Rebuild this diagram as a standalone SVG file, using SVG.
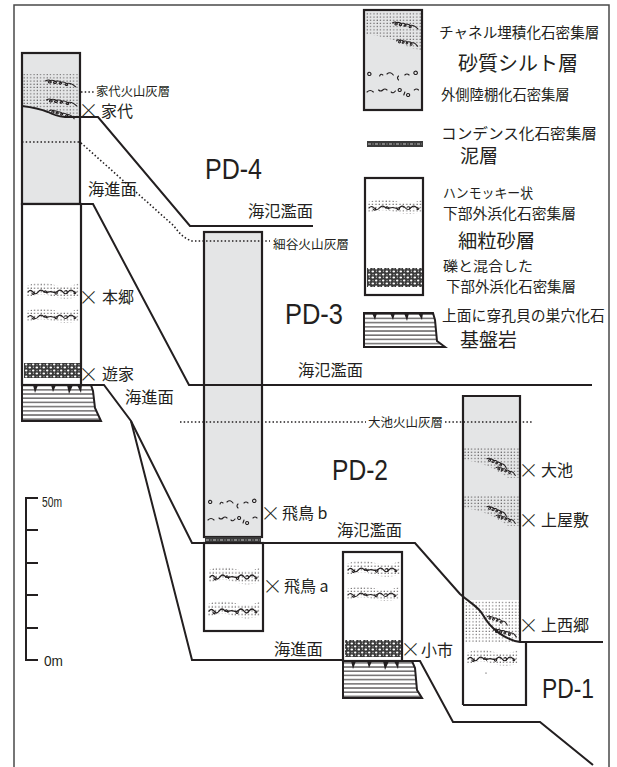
<svg xmlns="http://www.w3.org/2000/svg" xmlns:xlink="http://www.w3.org/1999/xlink" width="617" height="767" viewBox="0 0 617 767">
<style>
.ln{fill:none;stroke:#231f20;stroke-width:2}
.col{stroke:#231f20;stroke-width:2.2}
.gray{fill:#e4e5e6}
.wh{fill:#fff}
.dotln{fill:none;stroke:#231f20;stroke-width:1.6;stroke-dasharray:1.5 2.2}
.tx{font-family:"Noto Sans CJK JP","Noto Sans",sans-serif;fill:#231f20}
.pd{font-family:"Liberation Sans",Arial,sans-serif;fill:#231f20}
.x{font-family:"Noto Sans CJK JP","Noto Sans",sans-serif;font-weight:300;fill:#231f20;font-size:20px}
.fos{fill:none;stroke:#231f20;stroke-width:1.1;stroke-linecap:round}
.frame{fill:none;stroke:#4a4a4a;stroke-width:1.5}
</style>
<defs>
  <pattern id="dots" width="3.3" height="3.2" patternUnits="userSpaceOnUse">
    <circle cx="1" cy="1" r="0.55" fill="#231f20"/>
  </pattern>
  <pattern id="gravel" width="7" height="6" patternUnits="userSpaceOnUse">
    <rect width="7" height="6" fill="#3a3a3a"/>
    <ellipse cx="1.8" cy="1.6" rx="1.3" ry="1" fill="#fff"/>
    <ellipse cx="5.2" cy="4.4" rx="1.2" ry="1" fill="#fff"/>
    <circle cx="5.4" cy="1.2" r="0.6" fill="#ccc"/>
    <circle cx="2" cy="4.7" r="0.6" fill="#ccc"/>
  </pattern>
  <pattern id="strata" width="8" height="4.2" patternUnits="userSpaceOnUse">
    <rect width="8" height="4.2" fill="#fff"/>
    <line x1="0" y1="3.4" x2="8" y2="3.4" stroke="#231f20" stroke-width="1"/>
  </pattern>
  <!-- chain of shell fragments -->
  <path id="curl" fill="none" stroke="#231f20" stroke-width="1" stroke-linecap="round"
        d="M0,3 c1.5,-2 3.5,-2 4,0 c0.4,1.6 -1.6,2 -1.8,0.6 c-0.2,-1.6 2.4,-2.8 4.6,-1.8 c1.6,0.8 1,2.6 -0.4,2.4 c-1.2,-0.2 -0.2,-2.6 2.4,-2.8 c2.2,-0.2 3.4,1.6 2.2,2.6 c-1,0.8 -1.8,-0.8 -0.2,-1.8 c1.8,-1 4.2,-0.6 5,1 c0.6,1.4 -1,2 -1.6,0.8 c-0.4,-1 1.4,-2.4 3.6,-2 c2,0.4 3,2 4,2.6"/>
  <!-- hummocky shell bed: stippled band with a wavy shell line -->
  <g id="hcs">
    <path d="M0,5 Q13,0 26,4 T52,3 L52,15 Q39,19 26,15 T0,16 Z" fill="url(#dots)"/>
    <path class="fos" d="M1,11 q2.5,-3 5,0 t5,0 t5,-1 t5,1 t5,0 t5,-1 t5,1 t5,0 t5,-1 t2,1"/>
    <path class="fos" d="M5,12 c1,2 3,1 2,-1 M17,11 c1,-2 3,-1 3,1 M28,12 c1,2 3,0 2,-1 M38,10 c2,-1 3,1 2,2 M47,12 c1,1 2,0 2,-1"/>
  </g>
  <!-- channel-fill shell bed: inclined stipple with shell chain -->
  <g id="chf">
    <path d="M0,0 L55,0 L55,30 L44,30 Q22,14 0,12 Z" fill="url(#dots)"/>
    <use xlink:href="#curl" transform="translate(24,8) rotate(22)"/>
    <use xlink:href="#curl" transform="translate(33,17) rotate(18) scale(0.95)"/>
  </g>
  <!-- scattered outer-shelf shell fragments -->
  <g id="shelf" class="fos">
    <path d="M2,3 a1.6,1.6 0 1,1 0.1,0.1 M13,4 q1,-3 3,-1 M20,2 q3,-3 6,1 M31,4 q-2,2 0,4 M37,3 q2,-2 4,0 M46,2 a1.7,1.7 0 1,1 0.1,0.1"/>
    <path d="M1,20 q3,-3 6,0 M12,18 q2,2 4,0 q2,-2 4,0 M24,20 q2,2 4,-1 M31,19 a1.5,1.5 0 1,1 0.1,0.1 M36,23 l1,-3 M39,24 a1.5,1.5 0 1,1 0.1,0.1 M46,18 q2,-2 4,0"/>
  </g>
  <!-- condensed shell bed -->
  <g id="cond">
    <rect x="0" y="0" width="56" height="6" fill="#3a3a3a"/>
    <line x1="1" y1="3" x2="55" y2="3" stroke="#c8c8c8" stroke-width="1" stroke-dasharray="3 1.5 1 1.5"/>
  </g>
  <clipPath id="pd4top"><path d="M22,74 H80 V117 H65 Q55,116 48,112 Q38,108 22,106 Z"/></clipPath>
  <clipPath id="pd1low"><path d="M463,597 C470,603 478,606 483,615 C490,628 505,640 520,642 V600 H463 Z"/></clipPath>
</defs>

<rect width="617" height="767" fill="#fff"/>
<path class="frame" d="M14,767 V5 H609 V767"/>

<!-- PD-4 column (家代・本郷・遊家) -->
<g id="col-pd4">
  <rect class="gray col" x="22" y="53" width="58" height="151"/>
  <g clip-path="url(#pd4top)">
    <rect x="22" y="74" width="58" height="44" fill="url(#dots)"/>
  </g>
  <use xlink:href="#curl" transform="translate(46,78) rotate(8) scale(1.4,1)"/>
  <use xlink:href="#curl" transform="translate(47,97) rotate(8) scale(1.4,1)"/>
  <use xlink:href="#curl" transform="translate(50,108) rotate(14) scale(1.2,1)"/>
  <rect class="wh col" x="22" y="204" width="59" height="181"/>
  <use xlink:href="#hcs" transform="translate(27,280) scale(1,1.1)"/>
  <use xlink:href="#hcs" transform="translate(27,306)"/>
  <rect x="24" y="363" width="56" height="15" fill="url(#gravel)"/>
  <path d="M22,385 H91 L93,391 L95,408 L101,421 H22 Z" fill="url(#strata)" stroke="#231f20" stroke-width="2"/>
  <path d="M33,385 h5 l-3,8 z M51,385 h5 l-3,7 z M67,385 h6 l-4,9 z M77,385 h5 l-1,8 z" fill="#231f20"/>
</g>

<!-- PD-3 column (飛鳥 b) -->
<g id="col-pd3">
  <rect class="gray col" x="204" y="232" width="58" height="305"/>
  <use xlink:href="#shelf" transform="translate(207,500)"/>
  <use xlink:href="#cond" transform="translate(205,537)"/>
</g>

<!-- PD-2 column (飛鳥 a) -->
<g id="col-pd2a">
  <rect class="wh col" x="204" y="543" width="59" height="88"/>
  <use xlink:href="#hcs" transform="translate(209,564) scale(0.98,1.2)"/>
  <use xlink:href="#hcs" transform="translate(208,598) scale(1,1.2)"/>
</g>

<!-- PD-2 column (小市) -->
<g id="col-pd2b">
  <rect class="wh col" x="343" y="552" width="59" height="109"/>
  <use xlink:href="#hcs" transform="translate(347,558) scale(1.02,1.1)"/>
  <use xlink:href="#hcs" transform="translate(347,584)"/>
  <rect x="345" y="640" width="56" height="17" fill="url(#gravel)"/>
  <path d="M343,661 H412 L415,668 L417,690 L422,698 H343 Z" fill="url(#strata)" stroke="#231f20" stroke-width="2"/>
  <path d="M351,661 h5 l-3,8 z M367,661 h5 l-3,7 z M383,661 h6 l-4,9 z M394,661 h5 l-1,8 z" fill="#231f20"/>
</g>

<!-- PD-1 column (大池・上屋敷・上西郷) -->
<g id="col-pd1">
  <path class="gray" d="M463,396 H520 V642 C505,640 490,628 483,615 C478,606 470,603 463,597 Z"/>
  <use xlink:href="#chf" transform="translate(464,448)"/>
  <use xlink:href="#chf" transform="translate(464,496)"/>
  <rect x="463" y="602" width="57" height="40" fill="url(#dots)"/>
  <g clip-path="url(#pd1low)">
    <rect x="463" y="600" width="57" height="42" fill="#fff"/>
    <rect x="463" y="600" width="57" height="42" fill="url(#dots)"/>
  </g>
  <use xlink:href="#curl" transform="translate(488,614) rotate(18)"/>
  <use xlink:href="#curl" transform="translate(494,627) rotate(12) scale(1.1)"/>
  <path class="col" fill="none" d="M463,705 V396 H520 V642"/>
  <path class="col" fill="none" d="M520,642 H526 V705 H463"/>
  <use xlink:href="#hcs" transform="translate(467,647) scale(0.98,1.1)"/>
  <circle cx="486" cy="673" r="0.6" fill="#231f20"/>
</g>

<!-- sequence boundaries and tephra horizons -->
<g id="connectors">
  <path class="ln" d="M22,106 Q38,108 48,112 Q55,116 65,117 L98,117 L190,226 L313,226"/>
  <path class="ln" d="M80,204 H93 L189,385 H592"/>
  <path class="ln" d="M81,385 H104 L131,421 L192,543 H415 L460,594 C470,603 478,606 483,615 C490,628 505,640 520,642 H603"/>
  <path class="ln" d="M131,421 L192,660 H343"/>
  <path class="ln" d="M402,661 H420 L453,722 H540 L593,765"/>
  <path class="dotln" d="M22,142 H80 L174,226 Q182,238 192,241 H270"/>
  <path class="dotln" d="M81,92 H95"/>
  <path class="dotln" d="M180,422 H366 M445,422 H532"/>
</g>

<!-- scale bar -->
<g id="scale">
  <path class="ln" d="M38,498 H26 V660 H38 M26,530 H38 M26,563 H38 M26,595 H38 M26,628 H38"/>
  <text class="pd" x="42" y="507" font-size="14" textLength="20" lengthAdjust="spacingAndGlyphs">50m</text>
  <text class="pd" x="44" y="666" font-size="15" textLength="19" lengthAdjust="spacingAndGlyphs">0m</text>
</g>

<!-- section names -->
<g id="pd-labels">
  <text class="pd" x="205" y="179" font-size="30" textLength="57" lengthAdjust="spacingAndGlyphs">PD-4</text>
  <text class="pd" x="285" y="324" font-size="29" textLength="58" lengthAdjust="spacingAndGlyphs">PD-3</text>
  <text class="pd" x="332" y="480" font-size="29" textLength="56" lengthAdjust="spacingAndGlyphs">PD-2</text>
  <text class="pd" x="542" y="698" font-size="28" textLength="52" lengthAdjust="spacingAndGlyphs">PD-1</text>
</g>

<!-- surface and tephra names -->
<g id="surface-labels" class="tx">
  <text x="88" y="195" font-size="16.3">海進面</text>
  <text x="248" y="217" font-size="16.3">海氾濫面</text>
  <text x="298" y="375.5" font-size="16.3">海氾濫面</text>
  <text x="125" y="403" font-size="16.3">海進面</text>
  <text x="337" y="536" font-size="16.3">海氾濫面</text>
  <text x="274" y="655" font-size="16.3">海進面</text>
  <text x="96" y="96" font-size="12" textLength="74" lengthAdjust="spacingAndGlyphs">家代火山灰層</text>
  <text x="273" y="248.8" font-size="12.5" textLength="76" lengthAdjust="spacingAndGlyphs">細谷火山灰層</text>
  <text x="368" y="426.7" font-size="12.5" textLength="75" lengthAdjust="spacingAndGlyphs">大池火山灰層</text>
</g>

<!-- locality names -->
<g id="locality-labels" class="tx" font-size="16">
  <text class="x" x="78.5" y="117.6">×</text><text x="101" y="116.5">家代</text>
  <text class="x" x="78.5" y="304.6">×</text><text x="102" y="303.3">本郷</text>
  <text class="x" x="78.5" y="381.6">×</text><text x="102" y="380.3">遊家</text>
  <text class="x" x="260.5" y="520.6">×</text><text x="282" y="519.3">飛鳥 b</text>
  <text class="x" x="262.5" y="593.6">×</text><text x="284" y="592.3">飛鳥 a</text>
  <text class="x" x="400.5" y="656.6">×</text><text x="421" y="656.3">小市</text>
  <text class="x" x="518.5" y="477.6">×</text><text x="541" y="476.3">大池</text>
  <text class="x" x="518.5" y="527.6">×</text><text x="541" y="526.3">上屋敷</text>
  <text class="x" x="518.5" y="632.6">×</text><text x="541" y="631.3">上西郷</text>
</g>

<!-- legend -->
<g id="legend">
  <g id="legend-silt">
    <rect class="gray col" x="364" y="10" width="58" height="100"/>
    <path d="M366,12 H421 V50 L410,48 Q388,36 366,34 Z" fill="url(#dots)"/>
    <use xlink:href="#curl" transform="translate(393,20) rotate(10) scale(1.2,1)"/>
    <use xlink:href="#curl" transform="translate(397,38) rotate(10)"/>
    <use xlink:href="#shelf" transform="translate(366,72) scale(1.05,1)"/>
    <text class="tx" x="439" y="37.5" font-size="14.6">チャネル埋積化石密集層</text>
    <text class="tx" x="458" y="70.6" font-size="20">砂質シルト層</text>
    <text class="tx" x="441" y="99.5" font-size="14.3">外側陸棚化石密集層</text>
  </g>
  <g id="legend-mud">
    <use xlink:href="#cond" transform="translate(367,141)"/>
    <text class="tx" x="441" y="138.7" font-size="15" textLength="156" lengthAdjust="spacingAndGlyphs">コンデンス化石密集層</text>
    <text class="tx" x="460" y="163" font-size="19">泥層</text>
  </g>
  <g id="legend-sand">
    <rect class="wh col" x="365" y="178" width="58" height="117"/>
    <use xlink:href="#hcs" transform="translate(368,197) scale(1.04,1)"/>
    <rect x="367" y="268" width="55" height="19" fill="url(#gravel)"/>
    <text class="tx" x="443" y="198" font-size="13.5" textLength="90" lengthAdjust="spacingAndGlyphs">ハンモッキー状</text>
    <text class="tx" x="443" y="219" font-size="14.3" textLength="133" lengthAdjust="spacingAndGlyphs">下部外浜化石密集層</text>
    <text class="tx" x="458" y="248.3" font-size="19.3">細粒砂層</text>
    <text class="tx" x="443" y="271" font-size="13.5" textLength="90" lengthAdjust="spacingAndGlyphs">礫と混合した</text>
    <text class="tx" x="446" y="292" font-size="14.3" textLength="130" lengthAdjust="spacingAndGlyphs">下部外浜化石密集層</text>
  </g>
  <g id="legend-basement">
    <path d="M364,313 H433 L435,320 L437,341 L445,347 H364 Z" fill="url(#strata)" stroke="#231f20" stroke-width="2"/>
    <path d="M372,313 h5 l-2,7 z M390,313 h5 l-2,7 z M404,313 h5 l-2,8 z M418,313 h5 l-1,7 z" fill="#231f20"/>
    <text class="tx" x="442" y="320.6" font-size="14.8">上面に穿孔貝の巣穴化石</text>
    <text class="tx" x="460" y="347" font-size="19">基盤岩</text>
  </g>
</g>
</svg>
